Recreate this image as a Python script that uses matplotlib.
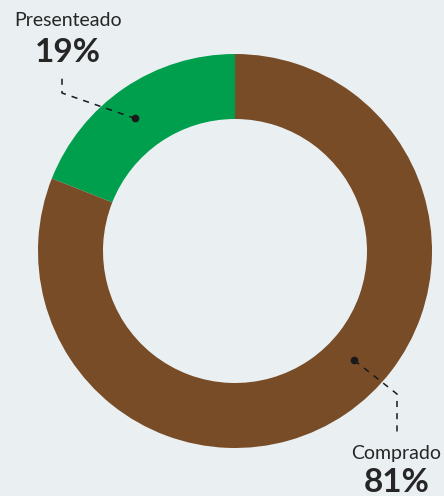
import matplotlib.pyplot as plt
import numpy as np

labels = ['Presenteado', 'Comprado']
values = [19, 81]
colors = ['#009f4d', '#774c27']

bg = '#eaeff2'
W, H = 444, 496
cx, cy = 235, H - 251
R = 197
ring = 65

fig = plt.figure(figsize=(W / 100, H / 100), dpi=100, facecolor=bg)
ax = fig.add_axes([0, 0, 1, 1])
ax.set_facecolor(bg)

wedges, _ = ax.pie(values, colors=colors, startangle=90, counterclock=True,
                   center=(cx, cy), radius=R,
                   wedgeprops=dict(width=ring, linewidth=0))
ax.set_xlim(0, W)
ax.set_ylim(0, H)
ax.set_aspect('equal')
ax.axis('off')

# label layout: dot angle / radius, elbow, text position (pixels from top-left)
dot_ang = [127, -42.5]
dot_r = [166, 162]
elbows = [(62, 93), (397, 394)]
ends = [(62, 73), (397, 432)]
name_pos = [(68, 21), (396, 453)]
pct_pos = [(68, 52), (397, 483)]

for i in range(len(values)):
    a = np.deg2rad(dot_ang[i])
    dx = cx + dot_r[i] * np.cos(a)
    dy = cy + dot_r[i] * np.sin(a)
    ex, ey = elbows[i][0], H - elbows[i][1]
    tx, ty = ends[i][0], H - ends[i][1]
    ax.plot([dx, ex, tx], [dy, ey, ty], color='#1a1a1a', lw=1.1,
            ls=(0, (4, 4)), zorder=5)
    ax.plot(dx, dy, 'o', color='#1a1a1a', ms=4.5, zorder=6)
    ax.text(name_pos[i][0], H - name_pos[i][1], labels[i], ha='center', va='center',
            fontsize=14, family='Lato', color='#262626')
    ax.text(pct_pos[i][0], H - pct_pos[i][1], f'{values[i]}%', ha='center', va='center',
            fontsize=24, family='Lato', fontweight='bold', color='#262626')

fig.savefig('out.png', dpi=100, facecolor=bg)
